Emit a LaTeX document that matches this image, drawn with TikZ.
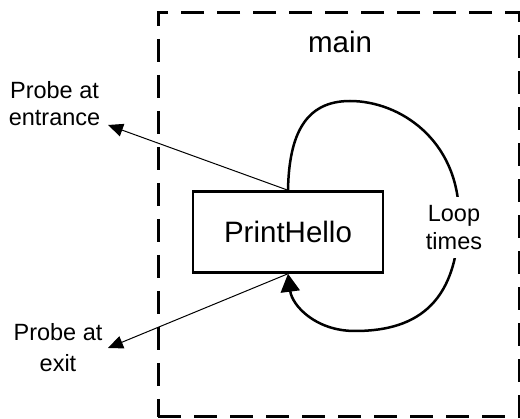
\documentclass[tikz,border=0pt]{standalone}
\usepackage{fontspec}
\setmainfont{Liberation Sans}
\usetikzlibrary{arrows.meta}
\begin{document}
\begin{tikzpicture}[x=1pt,y=-1pt,
  frame/.style={draw, line width=3pt, dash pattern=on 23pt off 13pt,
    minimum width=361pt, minimum height=404pt, inner sep=0pt},
  funcbox/.style={draw, line width=2.5pt, minimum width=190pt, minimum height=81pt,
    inner sep=0pt, font=\fontsize{29.5}{35}\selectfont},
  biglabel/.style={font=\fontsize{29.5}{35}\selectfont, inner sep=0pt},
  note/.style={align=center, inner sep=0pt, font=\fontsize{23.5}{27}\selectfont},
  probe/.style={line width=1pt, -{Triangle[length=15pt,width=13pt]}},
  loopline/.style={line width=2.5pt, -{Triangle[length=18pt,width=19pt]}}
]
\useasboundingbox (0,0) rectangle (520,419);

% outer dashed frame of main
\node[frame] (mainframe) at (338.5,215) {};
\node[biglabel, anchor=base] (title) at (340,53) {main};

% the called function
\node[funcbox] (hello) at (288,232) {PrintHello};

% loop back from the top of the box to its bottom
\draw[loopline] (hello.north) .. controls (289,135) and (305,101) .. (350,101)
  .. controls (400,101) and (458,140) .. (459,215)
  .. controls (459,300) and (420,331) .. (355,331)
  .. controls (315,331) and (292,305) .. (hello.south);
\node[note, fill=white, inner xsep=2pt, inner ysep=8pt,
  font=\fontsize{23.5}{28}\selectfont] (looplabel) at (454,227.5) {Loop\\times};

% probes
\coordinate (entrtip) at (108,125);
\coordinate (exittip) at (108,348);
\draw[probe] (hello.north) -- (entrtip);
\draw[probe] (hello.south) -- (exittip);
\node[note] (entrlabel) at (54.5,104) {Probe at\\entrance};
\node[note, font=\fontsize{23.5}{31}\selectfont] (exitlabel) at (58,348) {Probe at\\exit};
\end{tikzpicture}
\end{document}
